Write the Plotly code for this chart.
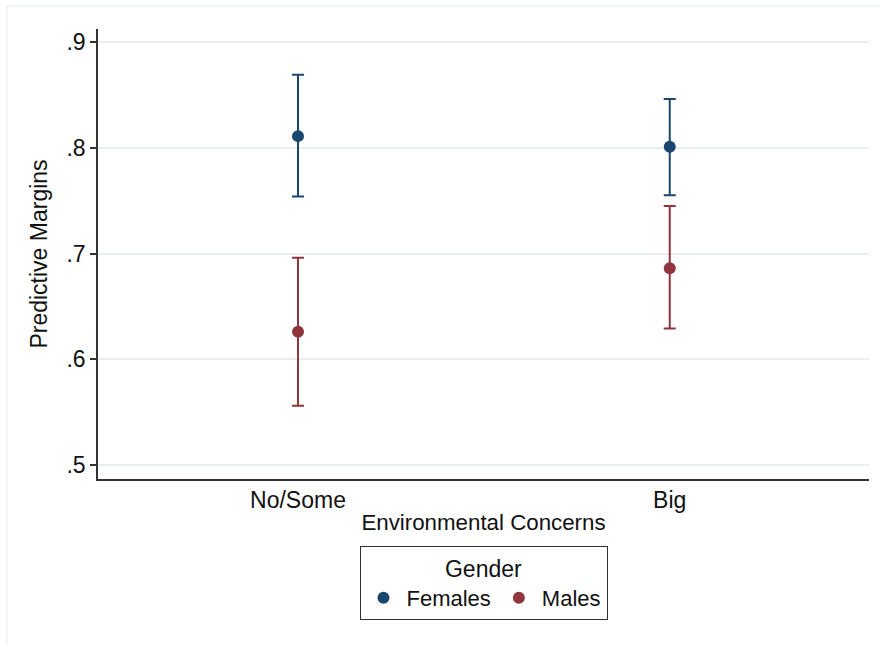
import plotly.graph_objects as go

categories = ["No/Some", "Big"]
cat_pos = [0, 1]
females = [0.811, 0.801]
females_lo = [0.754, 0.755]
females_hi = [0.869, 0.846]
males = [0.626, 0.686]
males_lo = [0.556, 0.629]
males_hi = [0.696, 0.745]
y_ticks = [0.5, 0.6, 0.7, 0.8, 0.9]
y_tick_labels = [".5", ".6", ".7", ".8", ".9"]

FONT = "Liberation Sans, Arial, sans-serif"
C_F = "#1a476f"
C_M = "#90353b"

def series(name, vals, lo, hi, color):
    return go.Scatter(
        x=cat_pos, y=vals, name=name, mode="markers",
        marker=dict(color=color, size=12),
        error_y=dict(type="data", symmetric=False,
                     array=[h - v for h, v in zip(hi, vals)],
                     arrayminus=[v - l for v, l in zip(vals, lo)],
                     color=color, thickness=2, width=6),
    )

fig = go.Figure()
fig.add_trace(series("Females", females, females_lo, females_hi, C_F))
fig.add_trace(series("Males", males, males_lo, males_hi, C_M))

fig.update_layout(
    width=887, height=646,
    margin=dict(l=98, r=18, t=29, b=167),
    paper_bgcolor="white", plot_bgcolor="white",
    font=dict(family=FONT, color="#111111"),
    showlegend=True,
    legend=dict(
        orientation="h", x=0.5, xanchor="center", y=-0.149, yanchor="top",
        title=dict(text="Gender", side="top center", font=dict(size=23)),
        font=dict(size=22), bordercolor="#333333", borderwidth=1,
        itemsizing="constant", itemwidth=36,
    ),
    xaxis=dict(
        range=[-0.538, 1.536], tickvals=cat_pos, ticktext=categories,
        showgrid=False, zeroline=False, showline=True, linecolor="#333333",
        linewidth=1.5, ticks="", tickfont=dict(size=23),
        title=dict(text="Environmental Concerns", font=dict(size=22.3), standoff=2),
    ),
    yaxis=dict(
        range=[0.4868, 0.9123], tickvals=y_ticks, ticktext=y_tick_labels,
        showgrid=True, gridcolor="#e6eef0", gridwidth=1.5, zeroline=False,
        showline=True, linecolor="#333333", linewidth=1.5,
        ticks="outside", ticklen=6, tickcolor="#333333", tickwidth=1.5,
        tickfont=dict(size=23),
        title=dict(text="Predictive Margins", font=dict(size=23), standoff=12),
    ),
    shapes=[
        dict(type="line", xref="paper", yref="paper",
             x0=-91/771, x1=1.0 + 11/771, y0=1 + 23/450, y1=1 + 23/450,
             line=dict(color="#eef3f5", width=1.5)),
        dict(type="line", xref="paper", yref="paper",
             x0=-91/771, x1=-91/771, y0=1 + 23/450, y1=-166/450,
             line=dict(color="#eef3f5", width=1.5)),
    ],
)

fig.write_html("out.html", config={"displayModeBar": False},
               post_script="document.body.style.margin='0';")
